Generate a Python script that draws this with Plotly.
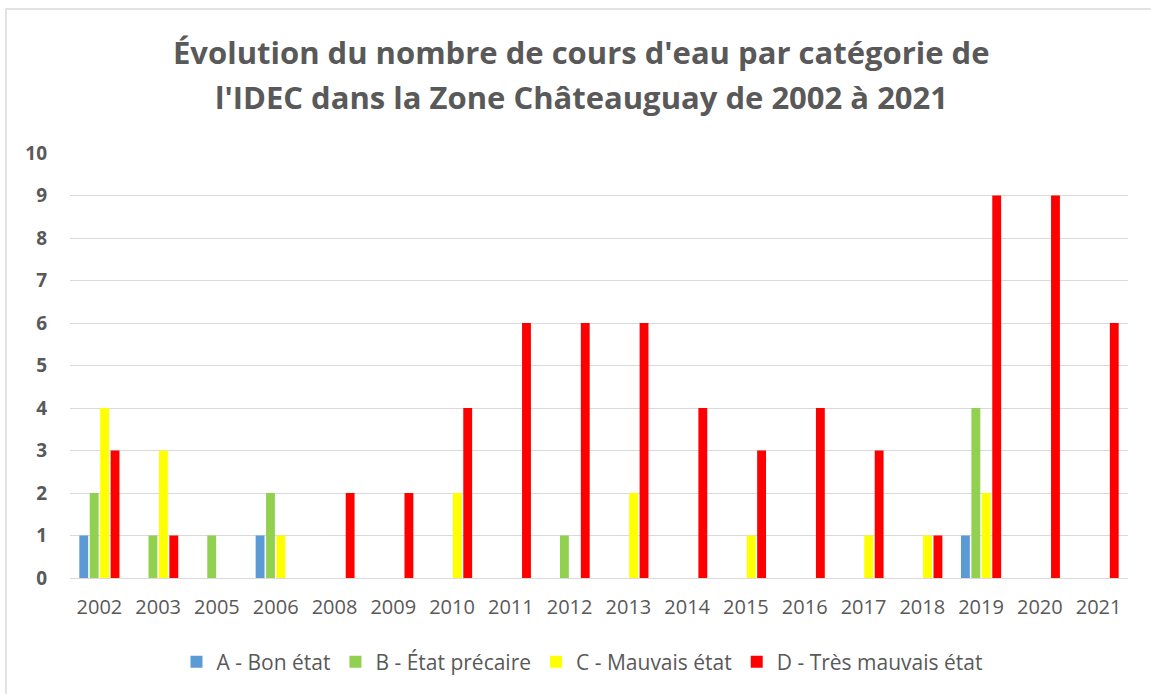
import plotly.graph_objects as go

years = ["2002", "2003", "2005", "2006", "2008", "2009", "2010", "2011", "2012",
         "2013", "2014", "2015", "2016", "2017", "2018", "2019", "2020", "2021"]
a_bon = [1, 0, 0, 1, 0, 0, 0, 0, 0, 0, 0, 0, 0, 0, 0, 1, 0, 0]
b_precaire = [2, 1, 1, 2, 0, 0, 0, 0, 1, 0, 0, 0, 0, 0, 0, 4, 0, 0]
c_mauvais = [4, 3, 0, 1, 0, 0, 2, 0, 0, 2, 0, 1, 0, 1, 1, 2, 0, 0]
d_tres_mauvais = [3, 1, 0, 0, 2, 2, 4, 6, 6, 6, 4, 3, 4, 3, 1, 9, 9, 6]

title_lines = ["Évolution du nombre de cours d'eau par catégorie de",
               "l'IDEC dans la Zone Châteauguay de 2002 à 2021"]

series = [
    ("A - Bon état", a_bon, "#5B9BD5"),
    ("B - État précaire", b_precaire, "#92D050"),
    ("C - Mauvais état", c_mauvais, "#FFFF00"),
    ("D - Très mauvais état", d_tres_mauvais, "#FF0000"),
]

FONT = "Open Sans, sans-serif"
GREY = "#595959"

fig = go.Figure()
for name, vals, col in series:
    fig.add_trace(go.Bar(x=years, y=vals, name=name, marker_color=col,
                         marker_line_width=0))

L, R, T, B = 70, 1128, 153, 578
W, H = 1151, 694
pw, ph = R - L, B - T

def px2x(p):
    return (p - L) / pw

def py2y(p):
    return (B - p) / ph

annotations = []
for line, ypix in zip(title_lines, [52, 97]):
    annotations.append(dict(
        text=line, xref="paper", yref="paper", x=px2x(581), y=py2y(ypix),
        xanchor="center", yanchor="middle", showarrow=False,
        font=dict(family=FONT, size=31, color=GREY, weight="bold"),
    ))

fig.update_layout(
    width=W, height=H,
    margin=dict(l=L, r=W - R, t=T, b=H - B, pad=0),
    paper_bgcolor="white", plot_bgcolor="white",
    barmode="group", bargap=0.29, bargroupgap=0.15,
    annotations=annotations,
    font=dict(family=FONT, color=GREY),
    xaxis=dict(type="category", tickfont=dict(size=20, color=GREY),
               showline=False, ticks="", showgrid=False, ticklabelstandoff=15),
    yaxis=dict(range=[0, 10], dtick=1, tickfont=dict(size=19, color=GREY, weight="bold"),
               showgrid=True, gridcolor="#D9D9D9", gridwidth=1,
               zeroline=True, zerolinecolor="#D9D9D9", zerolinewidth=1,
               ticks="", ticklabelstandoff=22),
    legend=dict(orientation="h", x=px2x(582), xanchor="center", y=py2y(662), yanchor="middle",
                font=dict(size=21, color=GREY), itemwidth=30, traceorder="normal"),
    showlegend=True,
    shapes=[dict(type="rect", xref="paper", yref="paper",
                 x0=px2x(6), x1=px2x(1170), y0=py2y(720), y1=py2y(9),
                 line=dict(color="#D9D9D9", width=1.5), layer="below")],
)

fig.write_html("out.html", config={"displayModeBar": False},
               post_script="document.body.style.margin='0';")
